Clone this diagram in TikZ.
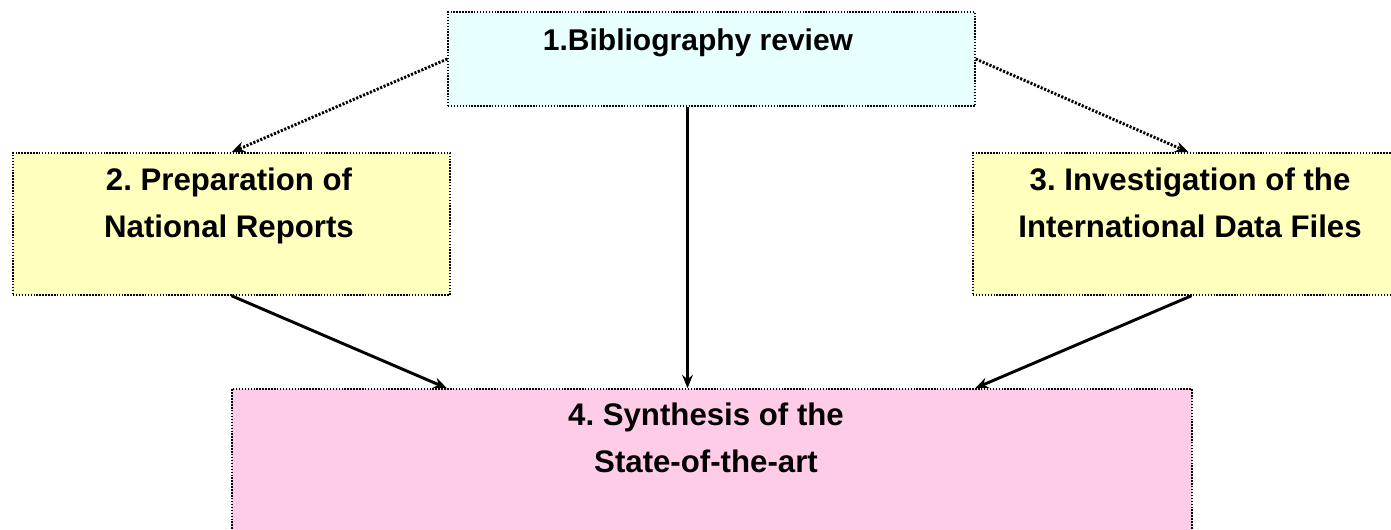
\documentclass[tikz,border=0pt]{standalone}
\usepackage{fontspec}
\setmainfont{Liberation Sans}
\usetikzlibrary{arrows.meta,calc}
\definecolor{cyanfill}{HTML}{E8FFFF}
\definecolor{yellowfill}{HTML}{FFFFBE}
\definecolor{pinkfill}{HTML}{FFCCE8}
\frenchspacing
\begin{document}
\begin{tikzpicture}[x=0.75pt,y=-0.75pt,
  box/.style={draw=black, line width=1.1pt, dash pattern=on 1.1pt off 1.1pt, inner sep=0pt},
  lbl/.style={align=center, anchor=base, inner sep=0pt, font=\fontsize{22.5pt}{35.25pt}\selectfont\bfseries},
  lblw/.style={lbl, font=\fontsize{23.4pt}{35.25pt}\selectfont\bfseries},
  solidarrow/.style={line width=2.2pt, -{Stealth[length=10pt,width=8pt]}},
  dotarrow/.style={line width=2.2pt, dash pattern=on 1.6pt off 1.2pt, -{Stealth[length=10pt,width=8pt]}}]
\useasboundingbox (0,0) rectangle (1391,529);
\clip (0,0) rectangle (1391,529);
\node[box, fill=cyanfill, minimum width=395.25pt, minimum height=70.5pt] (b1) at (711.5,59) {};
\node[box, fill=yellowfill, minimum width=327.75pt, minimum height=106.5pt] (b2) at (231.5,224) {};
\node[box, fill=yellowfill, minimum width=327.75pt, minimum height=106.5pt] (b3) at (1191.5,224) {};
\node[box, fill=pinkfill, minimum width=720pt, minimum height=128.25pt] (b4) at (712,474.5) {};
\node[lbl] (t1) at (698,50) {1.Bibliography review};
\node[lblw] (t2) at (229,237) {2. Preparation of\\National Reports};
\node[lblw] (t3) at (1190,237) {3. Investigation of the\\International Data Files};
\node[lblw] (t4) at (706,472) {4. Synthesis of the\\State-of-the-art};
\draw[dotarrow] (b1.west) -- (b2.north);
\draw[dotarrow] (b1.east) -- ($(b3.north)+(-3,0)$);
\draw[solidarrow] ($(b1.south)+(-24,0)$) -- ($(b4.north)+(-24.5,0)$);
\draw[solidarrow] (b2.south) -- ($(b4.north)+(-265,0)$);
\draw[solidarrow] (b3.south) -- ($(b4.north)+(263,0)$);
\end{tikzpicture}
\end{document}
